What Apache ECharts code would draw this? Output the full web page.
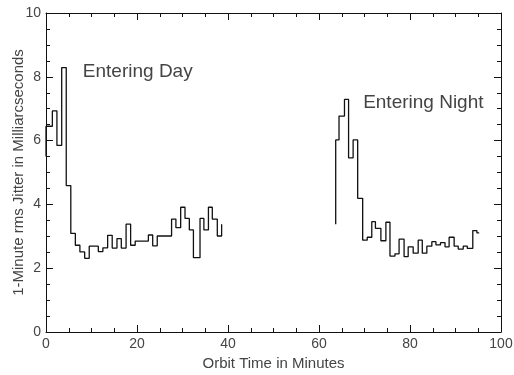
<!DOCTYPE html>
<html>
<head>
<meta charset="utf-8">
<script src="https://cdn.jsdelivr.net/npm/echarts@6/dist/echarts.min.js"></script>
<style>html,body{margin:0;padding:0;background:#fff;}#c{width:514px;height:375px;}</style>
</head>
<body>
<div id="c"></div>
<script>
// Day pass: step values (each value holds until the next time)
var dayTimes = [0, 1.4, 2.4, 3.45, 4.45, 5.45, 6.45, 7.45, 8.5, 9.5, 11.5, 12.5, 13.55, 14.55, 15.6, 16.55, 17.6, 18.6, 19.6, 22.5, 23.45, 24.45, 27.6, 28.55, 29.6, 30.55, 31.5, 32.4, 33.85, 34.7, 35.7, 36.55, 37.65, 38.6, 38.6];
var dayValues = [5.5, 6.45, 6.93, 5.85, 8.29, 4.59, 3.09, 2.72, 2.51, 2.31, 2.69, 2.52, 2.64, 3.03, 2.63, 2.93, 2.63, 3.38, 2.72, 2.85, 3.04, 2.70, 3.01, 3.54, 3.27, 3.91, 3.56, 3.20, 2.33, 3.56, 3.20, 3.91, 3.54, 3.01, 3.38];
// Night pass
var nightTimes = [63.67, 64.4, 65.6, 66.5, 67.5, 68.5, 69.6, 70.6, 71.6, 72.4, 73.6, 74.7, 75.6, 76.7, 77.6, 78.7, 79.6, 80.7, 81.8, 82.7, 83.7, 84.8, 85.7, 86.7, 87.7, 88.6, 89.7, 90.6, 91.7, 92.6, 93.8, 94.7, 95.2];
var nightValues = [3.38, 6.02, 6.77, 7.29, 5.46, 6.02, 4.19, 2.88, 2.97, 3.46, 3.25, 2.86, 3.44, 2.38, 2.45, 2.91, 2.36, 2.67, 2.47, 2.88, 2.47, 2.69, 2.83, 2.73, 2.80, 2.67, 2.97, 2.69, 2.60, 2.69, 2.62, 3.18, 3.11];
// Annotations (data coordinates of the text's left-middle point)
var annotationTexts = ['Entering Day', 'Entering Night'];
var annotationX = [8.1, 69.7];
var annotationY = [8.15, 7.18];
// Axis settings
var xTickValues = [0, 20, 40, 60, 80, 100];
var yTickValues = [0, 2, 4, 6, 8, 10];

function pairs(xs, ys) { return xs.map(function (x, i) { return [x, ys[i]]; }); }

var FONT = 'Liberation Sans';
var TXT = '#444';

function axisCommon(extra) {
  var base = {
    type: 'value',
    axisLine: { show: true, onZero: false, lineStyle: { color: '#111', width: 1 } },
    axisTick: { show: true, inside: true, length: 7, lineStyle: { color: '#111', width: 1 } },
    minorTick: { show: true, splitNumber: 4, length: 4, lineStyle: { color: '#111', width: 1 } },
    splitLine: { show: false },
    minorSplitLine: { show: false }
  };
  for (var k in extra) base[k] = extra[k];
  return base;
}

var chart = echarts.init(document.getElementById('c'), null, { renderer: 'canvas' });
var option = {
  animation: false,
  backgroundColor: '#fff',
  grid: { left: 46, right: 13, top: 13, bottom: 43, containLabel: false, outerBoundsMode: 'none' },
  xAxis: [
    axisCommon({
      position: 'bottom', min: xTickValues[0], max: xTickValues[xTickValues.length - 1], interval: 20,
      name: 'Orbit Time in Minutes', nameLocation: 'middle', nameGap: 21,
      nameTextStyle: { fontFamily: FONT, fontSize: 15, color: TXT },
      axisLabel: { show: true, margin: 5, fontFamily: FONT, fontSize: 14, color: TXT }
    }),
    axisCommon({
      position: 'top', min: 0, max: 100, interval: 20,
      axisLabel: { show: false }
    })
  ],
  yAxis: [
    axisCommon({
      position: 'left', min: yTickValues[0], max: yTickValues[yTickValues.length - 1], interval: 2,
      name: '1-Minute rms Jitter in Milliarcseconds', nameLocation: 'middle', nameGap: 20,
      nameMoveOverlap: false,
      nameTextStyle: { fontFamily: FONT, fontSize: 15, color: TXT },
      axisLabel: { show: true, margin: 5, fontFamily: FONT, fontSize: 14, color: TXT }
    }),
    axisCommon({
      position: 'right', min: 0, max: 10, interval: 2,
      axisLabel: { show: false }
    })
  ],
  series: [
    {
      type: 'line', xAxisIndex: 0, yAxisIndex: 0, step: 'start', showSymbol: false, symbol: 'none',
      lineStyle: { color: '#111', width: 1.3 },
      data: pairs(dayTimes, dayValues),
      markPoint: {
        symbol: 'circle', symbolSize: 0, silent: true,
        label: { show: true, position: 'right', distance: 0, fontFamily: FONT, fontSize: 19, color: TXT },
        data: [{ coord: [annotationX[0], annotationY[0]], value: annotationTexts[0], label: { formatter: annotationTexts[0] } }]
      }
    },
    {
      type: 'line', xAxisIndex: 0, yAxisIndex: 0, step: 'start', showSymbol: false, symbol: 'none',
      lineStyle: { color: '#111', width: 1.3 },
      data: pairs(nightTimes, nightValues),
      markPoint: {
        symbol: 'circle', symbolSize: 0, silent: true,
        label: { show: true, position: 'right', distance: 0, fontFamily: FONT, fontSize: 19, color: TXT },
        data: [{ coord: [annotationX[1], annotationY[1]], value: annotationTexts[1], label: { formatter: annotationTexts[1] } }]
      }
    }
  ]
};
chart.setOption(option);
</script>
</body>
</html>
